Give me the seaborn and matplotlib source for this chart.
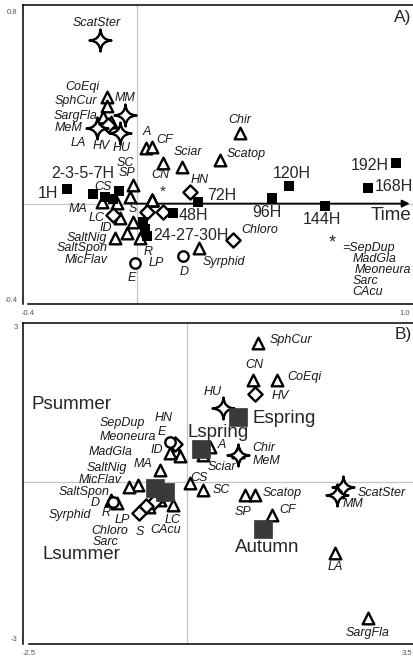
import matplotlib
matplotlib.use("Agg")
import matplotlib.pyplot as plt
from matplotlib.path import Path
import pandas as pd
import seaborn as sns

# ---------------- data ----------------
species = ["ScatSter", "CoEqi", "SphCur", "MM", "SargFla", "LA", "HV", "MeM", "HU",
           "A", "CF", "CN", "Sciar", "Chir", "Scatop", "HN", "SC", "SP", "CS", "MA",
           "SepDup", "MadGla", "Meoneura", "Sarc", "CAcu", "LP", "LC", "ID", "R", "S",
           "SaltNig", "SaltSpon", "MicFlav", "E", "D", "Syrphid", "Chloro"]
shape = ["star", "tri", "tri", "star", "tri", "tri", "dia", "star", "star",
         "tri", "tri", "tri", "tri", "tri", "tri", "dia", "tri", "tri", "tri", "tri",
         "tri", "tri", "tri", "tri", "tri", "dia", "tri", "tri", "dia", "dia",
         "tri", "tri", "tri", "circ", "circ", "tri", "dia"]

# panel A: species scores on the time-constrained ordination
a_ax1 = [-0.136, -0.111, -0.111, -0.045, -0.125, -0.096, -0.107, -0.147, -0.063,
         0.032, 0.054, 0.095, 0.164, 0.377, 0.303, 0.193, -0.015, -0.026, -0.074, -0.129,
         0.054, 0.054, 0.054, 0.054, 0.054, -0.089, -0.063, -0.015, 0.036, 0.095,
         -0.081, -0.037, 0.010, -0.008, 0.168, 0.226, 0.351]
a_ax2 = [0.678, 0.442, 0.405, 0.367, 0.359, 0.338, 0.326, 0.313, 0.293,
         0.230, 0.234, 0.168, 0.151, 0.293, 0.180, 0.048, 0.077, 0.027, 0.002, 0.006,
         0.015, 0.015, 0.015, 0.015, 0.015, -0.048, -0.060, -0.077, -0.035, -0.035,
         -0.143, -0.122, -0.143, -0.247, -0.218, -0.185, -0.151]

# panel B: species scores on the seasonal ordination
b_ax1 = [2.484, 1.433, 1.131, 2.389, 2.882, 2.357, 1.083, 0.812, 0.573,
         0.366, 1.354, 1.051, 0.255, 0.812, 1.083, -0.191, 0.255, 0.924, 0.048, -0.430,
         -0.191, -0.175, -0.111, -0.589, -0.430, -0.510, -0.223, -0.271, -0.637, -0.748,
         -0.764, -1.194, -0.908, -0.271, -1.162, -1.099, -0.382]
b_ax2 = [-0.086, 1.964, 2.672, -0.239, -2.596, -1.351, 1.705, 0.527, 1.427,
         0.680, -0.623, 1.964, 0.527, 0.584, -0.239, 0.738, -0.144, -0.239, -0.010, 0.239,
         0.680, 0.603, 0.508, -0.469, -0.335, -0.374, -0.431, 0.565, -0.450, -0.584,
         -0.048, -0.335, -0.086, 0.776, -0.374, -0.393, -0.239]

hours = [1, 2, 3, 5, 7, 24, 27, 30, 48, 72, 96, 120, 144, 168, 192]
time_ax1 = [-0.257, -0.162, -0.118, -0.089, -0.067, 0.021, 0.029, 0.036,
            0.131, 0.223, 0.494, 0.556, 0.688, 0.846, 0.948]
time_ax2 = [0.060, 0.039, 0.027, 0.019, 0.052, -0.077, -0.106, -0.135,
            -0.039, 0.006, 0.023, 0.073, -0.010, 0.064, 0.168]

seasons = ["Espring", "Lspring", "Psummer", "Lsummer", "Autumn"]
season_ax1 = [0.812, 0.223, -0.494, -0.350, 1.210]
season_ax2 = [1.255, 0.642, -0.105, -0.182, -0.891]

asterisk_group = ["SepDup", "MadGla", "Meoneura", "Sarc", "CAcu"]

# ---------------- label layout (pixel offsets from each mark) ----------------
lab_a = {
    "ScatSter": (-3, 17, "center"), "CoEqi": (-7, 10, "right"), "SphCur": (-10, 5, "right"),
    "MM": (0, 17, "center"), "SargFla": (-5, 1, "right"), "MeM": (-15, 0, "right"),
    "LA": (-33, -21, "center"), "HV": (-7, -21, "center"), "HU": (2, -15, "center"),
    "A": (1, 16, "center"), "CF": (13, 7, "center"), "CN": (-3, -12, "center"),
    "Sciar": (6, 15, "center"), "Chir": (0, 13, "center"), "Scatop": (7, 6, "left"),
    "HN": (10, 12, "center"), "SC": (-8, 22, "center"), "SP": (-3, 24, "center"),
    "CS": (-14, 16, "center"), "MA": (-24, -7, "center"), "LP": (44, -48, "center"),
    "LC": (-23, 0, "center"), "ID": (-27, -6, "center"), "R": (1, -40, "center"),
    "S": (-30, 3, "center"), "SaltNig": (-8, 0, "right"), "SaltSpon": (-19, -15, "right"),
    "MicFlav": (-32, -22, "right"), "E": (-3, -15, "center"), "D": (1, -16, "center"),
    "Syrphid": (25, -14, "center"), "Chloro": (9, 10, "left"),
}
lab_time = {
    "1H": (1, -9, -4, "right"), "2-3-5-7H": (2, -10, 21, "center"),
    "24-27-30H": (27, 8, -6, "left"), "48H": (48, 6, -2, "left"),
    "72H": (72, 24, 7, "center"), "96H": (96, -5, -14, "center"),
    "120H": (120, 3, 13, "center"), "144H": (144, -3, -13, "center"),
    "168H": (168, 7, 2, "left"), "192H": (192, -7, -2, "right"),
}
lab_b = {
    "SphCur": (12, 3, "left"), "CN": (2, 15, "center"), "CoEqi": (11, 3, "left"),
    "HV": (17, -2, "left"), "HU": (-10, 16, "center"), "A": (8, 2, "left"),
    "Sciar": (19, -12, "center"), "Chir": (15, 4, "left"), "MeM": (15, -6, "left"),
    "E": (-8, 10, "center"), "HN": (-11, 26, "center"), "SepDup": (-30, 24, "right"),
    "Meoneura": (-23, 19, "right"), "MadGla": (-43, -1, "right"), "ID": (-7, 3, "right"),
    "MA": (-17, 6, "center"), "SaltNig": (-11, 17, "right"), "MicFlav": (-8, 7, "right"),
    "SaltSpon": (-2, 8, "right"), "D": (-14, -1, "right"), "Syrphid": (-48, -12, "center"),
    "Chloro": (-53, -36, "center"), "LP": (-32, -18, "center"), "R": (-40, -7, "center"),
    "S": (0, -19, "center"), "Sarc": (-44, -35, "center"), "CAcu": (6, -30, "center"),
    "LC": (0, -15, "center"), "CS": (9, 5, "center"), "SC": (10, 0, "left"),
    "SP": (-2, -17, "center"), "Scatop": (8, 2, "left"), "CF": (8, 5, "left"),
    "ScatSter": (15, -6, "left"), "MM": (6, -9, "left"), "LA": (0, -14, "center"),
    "SargFla": (0, -15, "center"),
}
lab_season = {
    "Espring": (15, -1, "left"), "Lspring": (18, 17, "center"),
    "Psummer": (-84, 83, "center"), "Lsummer": (-83, -63, "center"),
    "Autumn": (5, -19, "center"),
}

# ---------------- styling ----------------
sns.set_style("white")
plt.rcParams["font.family"] = ["Liberation Sans", "DejaVu Sans"]


def four_point_star(c=0.05):
    verts = [(0, 1), (c, c), (1, 0), (c, -c), (0, -1), (-c, -c), (-1, 0), (-c, c), (0, 1), (0, 1)]
    codes = [Path.MOVETO] + [Path.CURVE3] * 8 + [Path.CLOSEPOLY]
    return Path(verts, codes)


marker_spec = {
    "tri": ("^", 70),
    "dia": ("D", 52),
    "circ": ("o", 56),
    "star": (four_point_star(), 250),
}

SP_FONT = 9
BIG_FONT = 13.5
TIME_FONT = 11.5

fig = plt.figure(figsize=(4.13, 6.56), dpi=100)
ax_a = fig.add_axes([23 / 413, 1 - 304 / 656, 390 / 413, 299 / 656])
ax_b = fig.add_axes([23 / 413, 1 - 644 / 656, 390 / 413, 321 / 656])


def style_axes(ax, xlim, ylim, xticks, yticks, xb):
    ax.set_xlim(*xlim)
    ax.set_ylim(*ylim)
    ax.axhline(0, color="#c4c4c4", lw=0.9, zorder=0)
    ax.axvline(0, color="#c4c4c4", lw=0.9, zorder=0)
    ax.set_xticks(xticks)
    ax.set_yticks(yticks)
    ax.tick_params(direction="inout", length=5, width=0.9, labelsize=5.5,
                   labelcolor="#555555", pad=1.5, color="black")
    for side in ("left", "top", "bottom"):
        ax.spines[side].set_visible(True)
        ax.spines[side].set_color("black")
        ax.spines[side].set_linewidth(1.1)
    ax.spines["right"].set_visible(False)
    ax.spines["bottom"].set_bounds(*xb)
    ax.set_xlabel("")
    ax.set_ylabel("")


def draw_species(ax, xs, ys):
    df = pd.DataFrame({"species": species, "shape": shape, "ax1": xs, "ax2": ys})
    for kind, (mk, size) in marker_spec.items():
        sub = df[df["shape"] == kind]
        sns.scatterplot(data=sub, x="ax1", y="ax2", marker=mk, s=size, color="white",
                        edgecolor="black", linewidth=1.7, ax=ax, zorder=3, legend=False)
    return df


def put_labels(ax, df, layout, skip=()):
    for _, row in df.iterrows():
        name = row["species"]
        if name in skip or name not in layout:
            continue
        dx, dy, ha = layout[name]
        ax.annotate(name, (row["ax1"], row["ax2"]), xytext=(dx, dy),
                    textcoords="offset pixels", ha=ha, va="center",
                    fontsize=SP_FONT, style="italic", color="#1a1a1a", zorder=5)


# ---------------- panel A ----------------
style_axes(ax_a, (-0.418, 1.012), (-0.417, 0.825),
           [-0.4, -0.2, 0.0, 0.2, 0.4, 0.6, 0.8, 1.0],
           [-0.4, -0.2, 0.0, 0.2, 0.4, 0.6, 0.8], (-0.4, 1.012))
ax_a.set_xticklabels(["-0.4", "", "", "", "", "", "", "1.0"])
ax_a.set_yticklabels(["-0.4", "", "", "", "", "", "0.8"])
ax_a.get_xticklabels()[-1].set_horizontalalignment("right")

ax_a.annotate("", xy=(1.0, 0), xytext=(0, 0),
              arrowprops=dict(arrowstyle="-|>", color="black", lw=1.3,
                              mutation_scale=11, shrinkA=0, shrinkB=0), zorder=2)
ax_a.text(0.933, -0.048, "Time", fontsize=BIG_FONT, ha="center", va="center")

tdf = pd.DataFrame({"hour": hours, "ax1": time_ax1, "ax2": time_ax2})
sns.scatterplot(data=tdf, x="ax1", y="ax2", marker="s", s=45, color="black",
                edgecolor="black", linewidth=0, ax=ax_a, zorder=4, legend=False)
for text, (h, dx, dy, ha) in lab_time.items():
    r = tdf[tdf["hour"] == h].iloc[0]
    ax_a.annotate(text, (r["ax1"], r["ax2"]), xytext=(dx, dy), textcoords="offset pixels",
                  ha=ha, va="center", fontsize=TIME_FONT, zorder=5)

dfa = draw_species(ax_a, a_ax1, a_ax2)
put_labels(ax_a, dfa, lab_a, skip=asterisk_group)
star_row = dfa[dfa["species"] == asterisk_group[0]].iloc[0]
ax_a.annotate("*", (star_row["ax1"], star_row["ax2"]), xytext=(11, 8),
              textcoords="offset pixels", ha="center", va="center", fontsize=11, zorder=5)

ax_a.text(0.792, 0.205, "*", transform=ax_a.transAxes, fontsize=13, ha="center", va="center")
legend_lines = ["=" + asterisk_group[0]] + asterisk_group[1:]
legend_x = [0.818, 0.846, 0.851, 0.846, 0.844]
legend_y = [0.187, 0.151, 0.114, 0.077, 0.040]
for t, lx, ly in zip(legend_lines, legend_x, legend_y):
    ax_a.text(lx, ly, t, transform=ax_a.transAxes, fontsize=SP_FONT, style="italic",
              ha="left", va="center", color="#1a1a1a")
ax_a.text(0.974, 0.957, "A)", transform=ax_a.transAxes, fontsize=12.5, ha="center", va="center")

# ---------------- panel B ----------------
style_axes(ax_b, (-2.60, 3.60), (-3.10, 3.06),
           [-2.5, -2, -1, 0, 1, 2, 3, 3.5], [-3, -2, -1, 0, 1, 2, 3], (-2.5, 3.60))
ax_b.set_xticklabels(["-2.5", "", "", "", "", "", "", "3.5"])
ax_b.set_yticklabels(["-3", "", "", "", "", "", "3"])

sdf = pd.DataFrame({"season": seasons, "ax1": season_ax1, "ax2": season_ax2})
dfb = draw_species(ax_b, b_ax1, b_ax2)
sns.scatterplot(data=sdf, x="ax1", y="ax2", marker="s", s=150, color="#3a3a3a",
                edgecolor="#3a3a3a", linewidth=0.5, ax=ax_b, zorder=4, legend=False)
put_labels(ax_b, dfb, lab_b)
for _, r in sdf.iterrows():
    dx, dy, ha = lab_season[r["season"]]
    ax_b.annotate(r["season"], (r["ax1"], r["ax2"]), xytext=(dx, dy),
                  textcoords="offset pixels", ha=ha, va="center", fontsize=BIG_FONT, zorder=5)
ax_b.text(0.974, 0.963, "B)", transform=ax_b.transAxes, fontsize=12.5, ha="center", va="center")

for ax in (ax_a, ax_b):
    ax.set_xlabel("")
    ax.set_ylabel("")

fig.savefig("out.png", dpi=100)
